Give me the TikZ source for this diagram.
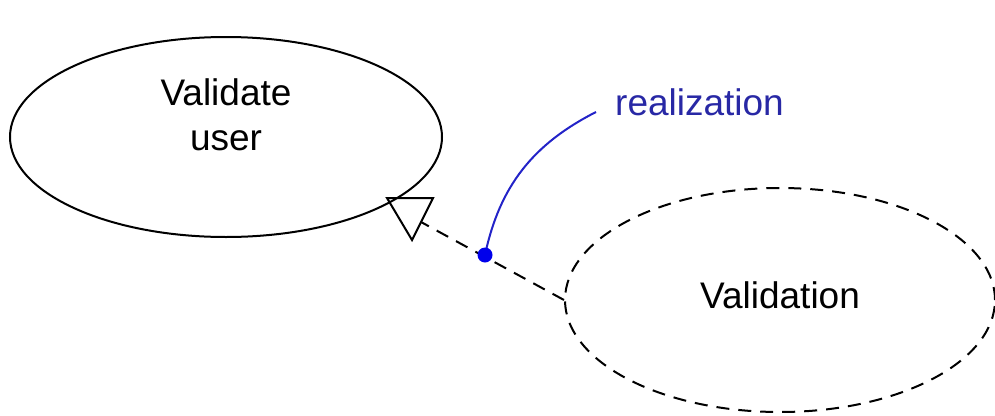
\documentclass[tikz,border=0pt]{standalone}
\usepackage{fontspec}
\setmainfont{Liberation Sans}
\usetikzlibrary{shapes.geometric}
\definecolor{lineblue}{RGB}{35,35,200}
\definecolor{textblue}{RGB}{40,40,165}
\definecolor{dotblue}{RGB}{0,0,235}
\begin{document}
\begin{tikzpicture}[x=1pt,y=-1pt,
  usecase/.style={ellipse,draw=black,line width=2pt,inner sep=0pt},
  lbl/.style={font=\fontsize{37}{45}\selectfont,inner sep=0pt,align=center},
  dashline/.style={line width=2pt,dash pattern=on 13pt off 9pt},
  bluecurve/.style={draw=lineblue,line width=2pt},
  tri/.style={draw=black,line width=2pt,line join=miter}]
\useasboundingbox (0,0) rectangle (995,415);
\node[usecase,minimum width=432pt,minimum height=200pt] (U) at (226,137) {};
\node[lbl,anchor=base] (Ut) at (226,150) {Validate\\user};
\node[usecase,dashline,minimum width=430pt,minimum height=224pt] (V) at (780,300) {};
\node[lbl,anchor=base] (Vt) at (780,308) {Validation};
\node[lbl,anchor=base west,text=textblue] (R) at (615,115) {realization};
\coordinate (T) at (421,222);
\coordinate (D) at (485,255);
\coordinate (Rend) at (596,112);
\draw[dashline] (V.west) -- (T);
\draw[tri] (387,198) -- (433,198) -- (412,240) -- cycle;
\draw[bluecurve] (D) to[out=78,in=207] (Rend);
\fill[dotblue] (D) circle (7.5pt);
\end{tikzpicture}
\end{document}
